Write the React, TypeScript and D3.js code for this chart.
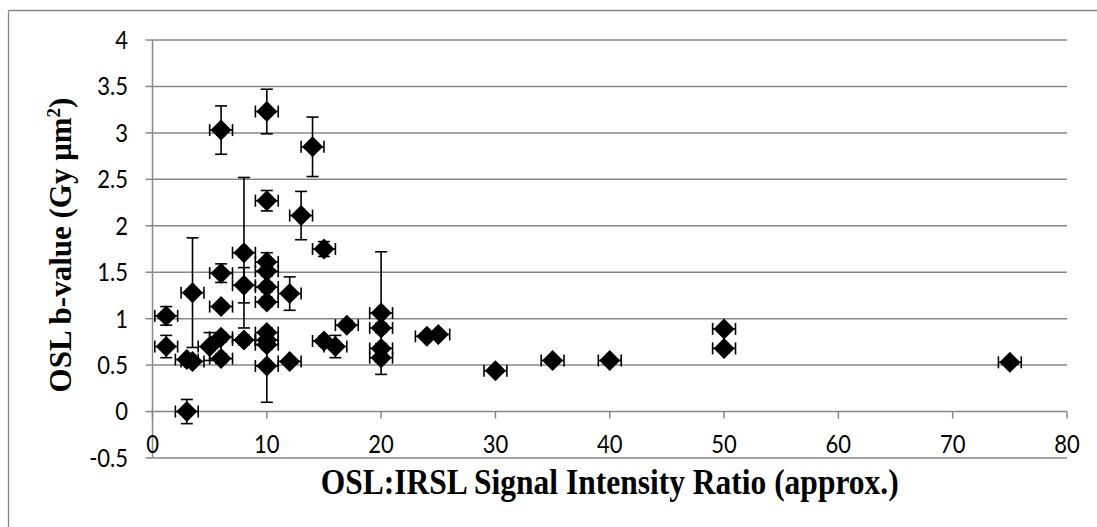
import React from "react";
import * as d3 from "d3";

const xVals = [1.2, 1.2, 3, 3, 3.5, 3.5, 5, 6, 6, 6, 6, 6, 8, 8, 8, 10, 10, 10, 10, 10, 10, 10, 10, 10, 10, 12, 12, 13, 14, 15, 15, 16, 17, 20, 20, 20, 20, 24, 25, 30, 35, 40, 50, 50, 75];
const yVals = [1.03, 0.7, 0.0, 0.56, 0.54, 1.28, 0.7, 3.03, 1.49, 1.13, 0.8, 0.57, 1.71, 1.36, 0.77, 3.23, 2.27, 1.61, 1.51, 1.34, 1.18, 0.85, 0.77, 0.72, 0.49, 1.27, 0.54, 2.11, 2.85, 1.75, 0.76, 0.7, 0.93, 1.06, 0.9, 0.68, 0.58, 0.81, 0.83, 0.44, 0.55, 0.55, 0.89, 0.68, 0.53];
const yErr = [0.1, 0.12, 0.13, 0.03, 0.03, 0.59, 0.15, 0.26, 0.1, 0.04, 0.05, 0.05, 0.81, 0.19, 0.05, 0.24, 0.11, 0.1, 0.05, 0.05, 0.05, 0.05, 0.05, 0.05, 0.39, 0.18, 0.03, 0.26, 0.32, 0.08, 0.05, 0.12, 0.05, 0.66, 0.05, 0.05, 0.05, 0.03, 0.03, 0.03, 0.03, 0.03, 0.03, 0.03, 0.03];
const xErr = 1;

const xTicks = [0, 10, 20, 30, 40, 50, 60, 70, 80];
const yTicks = [-0.5, 0, 0.5, 1, 1.5, 2, 2.5, 3, 3.5, 4];

const xTitle = "OSL:IRSL Signal Intensity Ratio (approx.)";

export default function App() {
  const W = 1097, H = 527;
  const x = d3.scaleLinear().domain([0, 80]).range([152.5, 1067]);
  const y = d3.scaleLinear().domain([-0.5, 4]).range([458, 40]);
  const grid = "#878787";
  const tickFont = "Lato, 'Open Sans', sans-serif";
  const titleFont = "'Liberation Serif', 'Times New Roman', serif";
  const r = 10.5;
  const cap = 6;
  const pts = xVals.map((xv, i) => ({ x: xv, y: yVals[i], e: yErr[i] }));
  const yMid = (y(4) + y(-0.5)) / 2 - 4;

  return (
    <svg width={W} height={H} style={{ position: "absolute", left: 0, top: 0, background: "#fff" }}>
      <rect x={0} y={0} width={W} height={H} fill="#fff" />
      {/* outer border */}
      <line x1={8.5} y1={10.5} x2={W} y2={10.5} stroke={grid} strokeWidth={1.3} />
      <line x1={8.5} y1={10.5} x2={8.5} y2={H} stroke={grid} strokeWidth={1.3} />
      {/* gridlines */}
      {yTicks.map((t) => (
        <line key={"g" + t} x1={x(0)} x2={x(80)} y1={y(t)} y2={y(t)} stroke={grid} strokeWidth={1.5} />
      ))}
      {/* y axis */}
      <line x1={x(0)} x2={x(0)} y1={y(4)} y2={y(-0.5)} stroke={grid} strokeWidth={1.5} />
      {yTicks.map((t) => (
        <g key={"yt" + t}>
          <line x1={x(0) - 7} x2={x(0)} y1={y(t)} y2={y(t)} stroke={grid} strokeWidth={1.5} />
          <text
            transform={`translate(128, ${y(t)}) scale(1, 1.12)`}
            dy="0.36em"
            textAnchor="end"
            fontFamily={tickFont}
            fontSize={22}
            fill="#000"
          >
            {t}
          </text>
        </g>
      ))}
      {/* x axis at y=0 */}
      {xTicks.map((t) => (
        <g key={"xt" + t}>
          <line x1={x(t)} x2={x(t)} y1={y(0)} y2={y(0) + 7} stroke={grid} strokeWidth={1.5} />
          <text
            transform={`translate(${x(t)}, ${y(0) + 41}) scale(1, 1.12)`}
            textAnchor="middle"
            fontFamily={tickFont}
            fontSize={22}
            fill="#000"
          >
            {t}
          </text>
        </g>
      ))}
      {/* error bars */}
      {pts.map((p, i) => (
        <g key={"e" + i} stroke="#000" strokeWidth={1.6}>
          <line x1={x(p.x - xErr)} x2={x(p.x + xErr)} y1={y(p.y)} y2={y(p.y)} />
          <line x1={x(p.x - xErr)} x2={x(p.x - xErr)} y1={y(p.y) - cap} y2={y(p.y) + cap} />
          <line x1={x(p.x + xErr)} x2={x(p.x + xErr)} y1={y(p.y) - cap} y2={y(p.y) + cap} />
          <line x1={x(p.x)} x2={x(p.x)} y1={y(p.y - p.e)} y2={y(p.y + p.e)} />
          <line x1={x(p.x) - cap} x2={x(p.x) + cap} y1={y(p.y + p.e)} y2={y(p.y + p.e)} />
          <line x1={x(p.x) - cap} x2={x(p.x) + cap} y1={y(p.y - p.e)} y2={y(p.y - p.e)} />
        </g>
      ))}
      {/* markers */}
      {pts.map((p, i) => {
        const cx = x(p.x), cy = y(p.y);
        return (
          <path
            key={"m" + i}
            d={`M${cx},${cy - r}L${cx + r},${cy}L${cx},${cy + r}L${cx - r},${cy}Z`}
            fill="#000"
          />
        );
      })}
      {/* titles */}
      <text
        transform={`translate(${(x(0) + x(80)) / 2}, 494) scale(1, 1.12)`}
        textAnchor="middle"
        fontFamily={titleFont}
        fontWeight="bold"
        fontSize={31.5}
        fill="#000"
      >
        {xTitle}
      </text>
      <text
        transform={`translate(71, ${yMid}) rotate(-90)`}
        textAnchor="middle"
        fontFamily={titleFont}
        fontWeight="bold"
        fontSize={31}
        fill="#000"
      >
        OSL b-value (Gy μm<tspan dy={-11} fontSize={19}>2</tspan><tspan dy={11}>)</tspan>
      </text>
    </svg>
  );
}
